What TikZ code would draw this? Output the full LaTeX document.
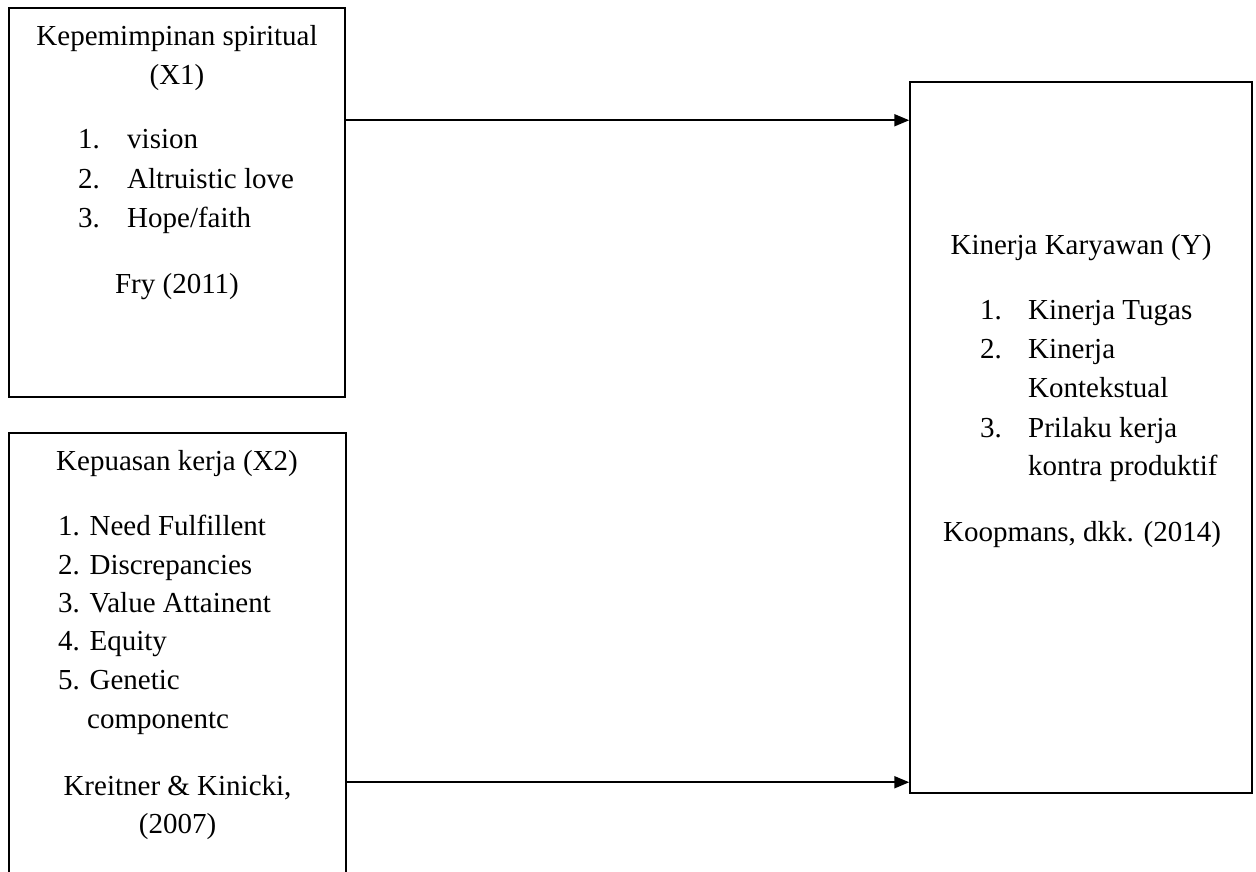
\documentclass[tikz,border=0pt]{standalone}
\usepackage{fontspec}
\setmainfont{Liberation Serif}
\usetikzlibrary{arrows.meta}
\begin{document}
\begin{tikzpicture}[x=1pt,y=-1pt,
  box/.style={draw, line width=1.5pt, inner sep=0pt},
  txt/.style={anchor=base, inner sep=0pt, font=\fontsize{29}{39}\selectfont},
  ltxt/.style={anchor=base west, inner sep=0pt, font=\fontsize{29}{39}\selectfont},
  arr/.style={line width=2pt, -{Triangle[length=15pt,width=12pt]}}]
\clip (0,0) rectangle (1256,872);
\fill[white] (0,0) rectangle (1256,872);
% boxes
\node[box, minimum width=336pt, minimum height=389pt] (X1) at (177,202.5) {};
\node[box, minimum width=337pt, minimum height=467pt] (X2) at (177.5,666.5) {};
\node[box, minimum width=342pt, minimum height=711pt] (Y) at (1081,437.5) {};
% X1 texts
\node[txt] (t1) at (177,46) {Kepemimpinan spiritual};
\node[txt] (t2) at (177,85) {(X1)};
\node[ltxt] (n1) at (78,149) {1.};
\node[ltxt] (i1) at (127,149) {vision};
\node[ltxt] (n2) at (78,188) {2.};
\node[ltxt] (i2) at (127,188) {Altruistic love};
\node[ltxt] (n3) at (78,227) {3.};
\node[ltxt] (i3) at (127,227) {Hope/faith};
\node[txt] (t3) at (177,293) {Fry (2011)};
% X2 texts
\node[txt] (u1) at (177,470) {Kepuasan kerja (X2)};
\node[ltxt] (v1) at (58,535) {1. Need Fulfillent};
\node[ltxt] (v2) at (58,574) {2. Discrepancies};
\node[ltxt] (v3) at (58,612) {3. Value Attainent};
\node[ltxt] (v4) at (58,650) {4. Equity};
\node[ltxt] (v5) at (58,689) {5. Genetic};
\node[ltxt] (v6) at (87,728) {componentc};
\node[txt] (u2) at (177.5,795) {Kreitner \& Kinicki,};
\node[txt] (u3) at (177.5,833) {(2007)};
% Y texts
\node[txt] (y1) at (1081,254) {Kinerja Karyawan (Y)};
\node[ltxt] (m1) at (980,319) {1.};
\node[ltxt] (k1) at (1028,319) {Kinerja Tugas};
\node[ltxt] (m2) at (980,358) {2.};
\node[ltxt] (k2) at (1028,358) {Kinerja};
\node[ltxt] (k3) at (1028,397) {Kontekstual};
\node[ltxt] (m3) at (980,437) {3.};
\node[ltxt] (k4) at (1028,437) {Prilaku kerja};
\node[ltxt] (k5) at (1028,475) {kontra produktif};
\node[txt] (y2) at (1082,541) {Koopmans, dkk. (2014)};
% arrows
\draw[arr] ([yshift=-113pt]X1.north east) coordinate (s1) -- (s1 -| Y.west);
\draw[arr] ([yshift=-350pt]X2.north east) coordinate (s2) -- (s2 -| Y.west);
\end{tikzpicture}
\end{document}
